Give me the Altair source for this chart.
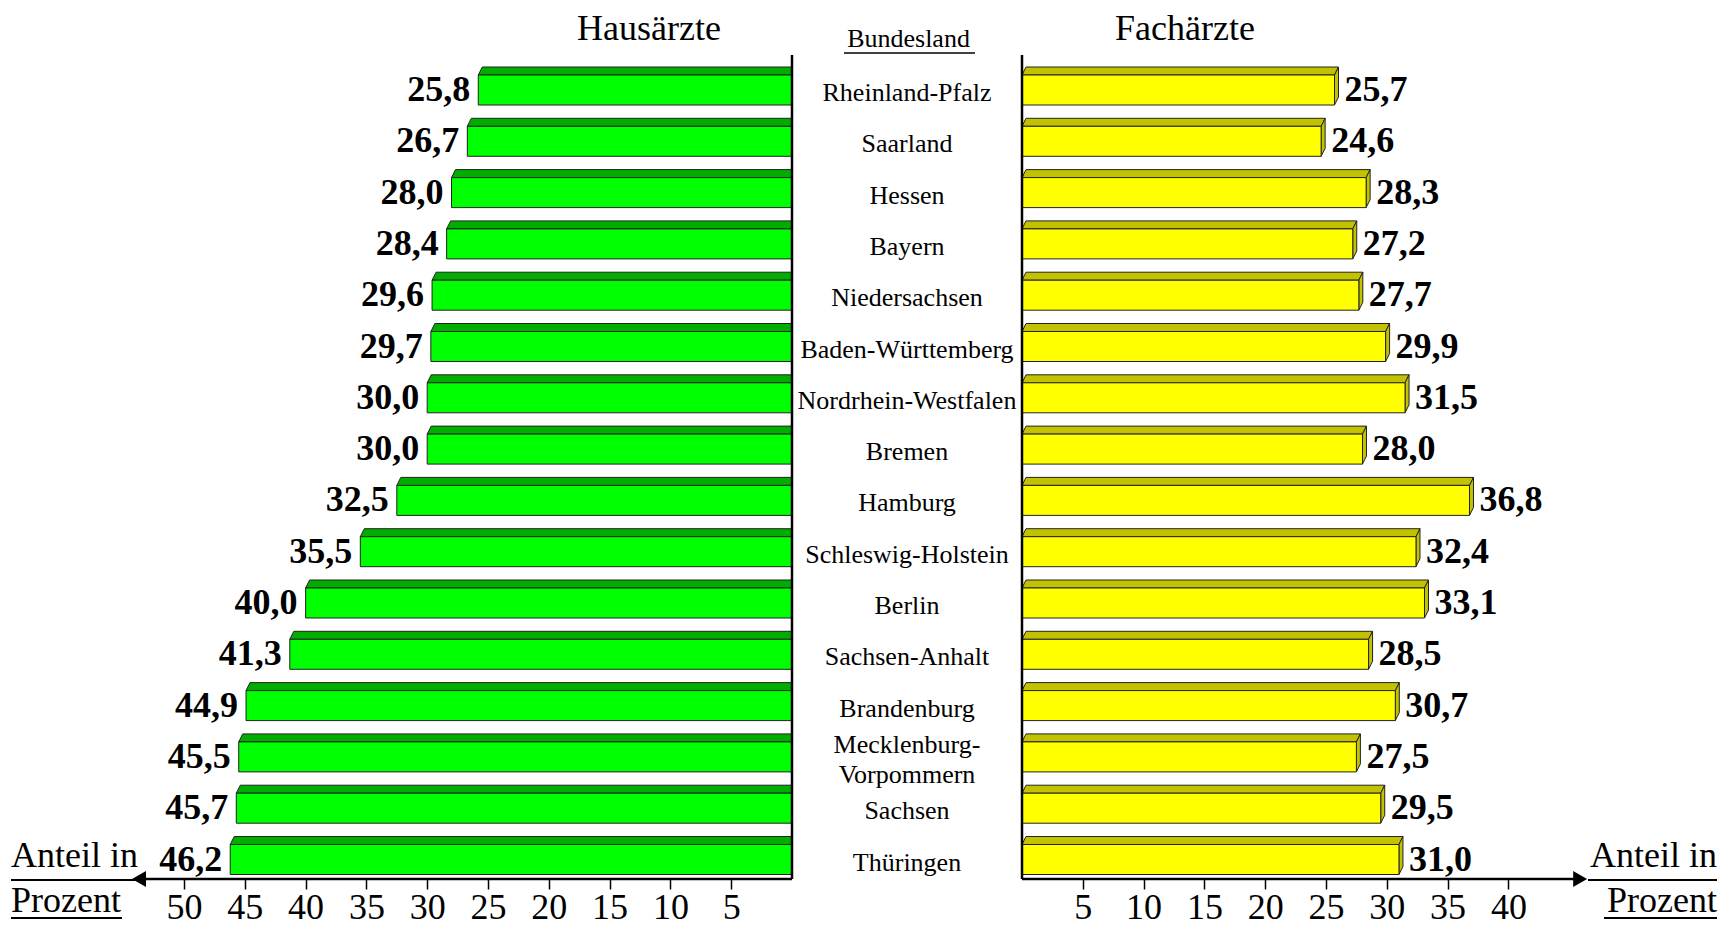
import altair as alt
import pandas as pd

# ---------------- data ----------------
states = ["Rheinland-Pfalz", "Saarland", "Hessen", "Bayern", "Niedersachsen",
          "Baden-Württemberg", "Nordrhein-Westfalen", "Bremen", "Hamburg",
          "Schleswig-Holstein", "Berlin", "Sachsen-Anhalt", "Brandenburg",
          "Mecklenburg-Vorpommern", "Sachsen", "Thüringen"]
state_labels = ["Rheinland-Pfalz", "Saarland", "Hessen", "Bayern", "Niedersachsen",
                "Baden-Württemberg", "Nordrhein-Westfalen", "Bremen", "Hamburg",
                "Schleswig-Holstein", "Berlin", "Sachsen-Anhalt", "Brandenburg",
                "Mecklenburg-\nVorpommern", "Sachsen", "Thüringen"]
hausaerzte = [25.8, 26.7, 28.0, 28.4, 29.6, 29.7, 30.0, 30.0, 32.5, 35.5,
              40.0, 41.3, 44.9, 45.5, 45.7, 46.2]
fachaerzte = [25.7, 24.6, 28.3, 27.2, 27.7, 29.9, 31.5, 28.0, 36.8, 32.4,
              33.1, 28.5, 30.7, 27.5, 29.5, 31.0]
ticks_left = [5, 10, 15, 20, 25, 30, 35, 40, 45, 50]
ticks_right = [5, 10, 15, 20, 25, 30, 35, 40]
axis_end_left = 53.4
axis_end_right = 45.6

# ---------------- layout constants ----------------
FONT = "Liberation Serif"
K = 12.16            # px per percent
W_L, W_M, W_R = 784, 230, 699
H = 871
STEP = 51.3
ROW0 = 82
Y_MIN = -ROW0 / STEP
Y_MAX = Y_MIN + H / STEP
HALF = 15 / STEP
DEPTH_Y = 8 / STEP
DEPTH_X = 4 / K
LINE_H = 30

GREEN, GREEN_TOP = "#00FF00", "#00AE00"
YELLOW, YELLOW_TOP = "#FFFF00", "#C2C200"


def fmt(v):
    return f"{v:.1f}".replace(".", ",")


df = pd.DataFrame({
    "state": states,
    "label": state_labels,
    "idx": list(range(len(states))),
    "haus": hausaerzte,
    "fach": fachaerzte,
})
df["haus_txt"] = df["haus"].map(fmt)
df["fach_txt"] = df["fach"].map(fmt)
df["lines"] = df["label"].str.count("\n") + 1
df["top"] = df["idx"] - HALF
df["bot"] = df["idx"] + HALF
df["zero"] = 0.0

# top faces (parallelograms) for both panels, side faces for right panel
rows_l, rows_r, rows_s = [], [], []
for _, r in df.iterrows():
    rows_l.append({"state": r.state, "y": r.top, "x": r.haus, "x2": 0.0})
    rows_l.append({"state": r.state, "y": r.top - DEPTH_Y, "x": r.haus - DEPTH_X, "x2": 0.0})
    rows_r.append({"state": r.state, "y": r.top, "x": 0.0, "x2": r.fach})
    rows_r.append({"state": r.state, "y": r.top - DEPTH_Y, "x": DEPTH_X, "x2": r.fach + DEPTH_X})
    rows_s.append({"state": r.state, "x": r.fach, "y": r.top, "y2": r.bot})
    rows_s.append({"state": r.state, "x": r.fach + DEPTH_X, "y": r.top - DEPTH_Y, "y2": r.bot - DEPTH_Y})
top_l = pd.DataFrame(rows_l)
top_r = pd.DataFrame(rows_r)
side_r = pd.DataFrame(rows_s)

one = pd.DataFrame({"v": [0]})

yscale = alt.Scale(domain=[Y_MIN, Y_MAX], reverse=True, nice=False, zero=False)
xL = alt.Scale(domain=[0, W_L / K], reverse=True, nice=False, zero=False)
xR = alt.Scale(domain=[0, W_R / K], nice=False, zero=False)


def make_axis(values):
    return alt.Axis(values=values, domain=False, grid=False, ticks=True, tickSize=10,
                    tickWidth=1.5, tickColor="black", labelFont=FONT, labelFontSize=36,
                    labelColor="black", labelPadding=1, title=None, format="d",
                    labelFlush=False, labelOverlap=False)


def text_at(x, y, txt, size, align="center", weight="normal"):
    return alt.Chart(one).mark_text(text=txt, font=FONT, fontSize=size, align=align,
                                    baseline="middle", fontWeight=weight, color="black").encode(
        x=alt.value(x), y=alt.value(y))


def hline(x1, x2, y, w=2):
    return alt.Chart(one).mark_rule(color="black", strokeWidth=w).encode(
        x=alt.value(x1), x2=alt.value(x2), y=alt.value(y))


# ---------------- left panel (Hausärzte) ----------------
l_top = alt.Chart(top_l).mark_area(orient="horizontal", fill=GREEN_TOP, stroke="#222",
                                   strokeWidth=1).encode(
    y=alt.Y("y:Q", scale=yscale, axis=None),
    x=alt.X("x:Q", scale=xL, axis=make_axis(ticks_left), stack=None),
    x2="x2:Q",
    detail="state:N")
l_front = alt.Chart(df).mark_rect(fill=GREEN, stroke="#222", strokeWidth=1).encode(
    x=alt.X("haus:Q", scale=xL), x2="zero:Q",
    y=alt.Y("top:Q", scale=yscale), y2="bot:Q")
l_text = alt.Chart(df).mark_text(align="right", baseline="middle", dx=-8, font=FONT,
                                 fontSize=36, fontWeight="bold", color="black").encode(
    x=alt.X("haus:Q", scale=xL), y=alt.Y("idx:Q", scale=yscale), text="haus_txt:N")
l_zero = alt.Chart(one).mark_rule(color="black", strokeWidth=2.5).encode(
    x=alt.datum(0), y=alt.value(47), y2=alt.value(H))
l_axis = alt.Chart(one).mark_rule(color="black", strokeWidth=2.5).encode(
    x=alt.datum(0), x2=alt.datum(axis_end_left), y=alt.value(H))
l_arrow = alt.Chart(one).mark_point(shape="triangle-left", filled=True, color="black",
                                    size=260, opacity=1).encode(
    x=alt.datum(axis_end_left + 0.3), y=alt.value(H))

left = alt.layer(
    l_top, l_front, l_text, l_zero, l_axis, l_arrow,
    text_at(641, 21, "Hausärzte", 36),
    text_at(3, 848, "Anteil in", 36, align="left"),
    hline(3, 134, 872),
    text_at(3, 893, "Prozent", 36, align="left"),
    hline(3, 114, 910),
).properties(width=W_L, height=H)

# ---------------- middle panel (Bundesland) ----------------
m_text1 = alt.Chart(df).transform_filter("datum.lines == 1").mark_text(
    font=FONT, fontSize=26, baseline="middle", align="center", dy=3, color="black").encode(
    x=alt.value(W_M / 2), y=alt.Y("idx:Q", scale=yscale, axis=None), text="label:N")
m_text2 = alt.Chart(df).transform_filter("datum.lines == 2").mark_text(
    font=FONT, fontSize=26, lineBreak="\n", lineHeight=LINE_H, baseline="middle",
    align="center", dy=3 - LINE_H / 2, color="black").encode(
    x=alt.value(W_M / 2), y=alt.Y("idx:Q", scale=yscale, axis=None), text="label:N")
middle = alt.layer(
    m_text1, m_text2,
    text_at(116.5, 31, "Bundesland", 26),
    hline(52, 183, 45, 1.5),
).properties(width=W_M, height=H)

# ---------------- right panel (Fachärzte) ----------------
r_top = alt.Chart(top_r).mark_area(orient="horizontal", fill=YELLOW_TOP, stroke="#222",
                                   strokeWidth=1).encode(
    y=alt.Y("y:Q", scale=yscale, axis=None),
    x=alt.X("x:Q", scale=xR, axis=make_axis(ticks_right), stack=None),
    x2="x2:Q",
    detail="state:N")
r_side = alt.Chart(side_r).mark_area(orient="vertical", fill=YELLOW_TOP, stroke="#222",
                                     strokeWidth=1).encode(
    x=alt.X("x:Q", scale=xR),
    y=alt.Y("y:Q", scale=yscale, stack=None), y2="y2:Q",
    detail="state:N")
r_front = alt.Chart(df).mark_rect(fill=YELLOW, stroke="#222", strokeWidth=1).encode(
    x=alt.X("zero:Q", scale=xR), x2="fach:Q",
    y=alt.Y("top:Q", scale=yscale), y2="bot:Q")
r_text = alt.Chart(df).mark_text(align="left", baseline="middle", dx=10, font=FONT,
                                 fontSize=36, fontWeight="bold", color="black").encode(
    x=alt.X("fach:Q", scale=xR), y=alt.Y("idx:Q", scale=yscale), text="fach_txt:N")
r_zero = alt.Chart(one).mark_rule(color="black", strokeWidth=2.5).encode(
    x=alt.datum(0), y=alt.value(47), y2=alt.value(H))
r_axis = alt.Chart(one).mark_rule(color="black", strokeWidth=2.5).encode(
    x=alt.datum(0), x2=alt.datum(axis_end_right), y=alt.value(H))
r_arrow = alt.Chart(one).mark_point(shape="triangle-right", filled=True, color="black",
                                    size=260, opacity=1).encode(
    x=alt.datum(axis_end_right + 0.3), y=alt.value(H))

right = alt.layer(
    r_top, r_side, r_front, r_text, r_zero, r_axis, r_arrow,
    text_at(163, 21, "Fachärzte", 36),
    text_at(695, 848, "Anteil in", 36, align="right"),
    hline(566, 695, 872),
    text_at(695, 893, "Prozent", 36, align="right"),
    hline(582, 695, 910),
).properties(width=W_R, height=H)

chart = alt.hconcat(left, middle, right, spacing=0, bounds="flush").properties(
    padding=0
).configure_view(stroke=None)

chart.save("out.html", embed_options={"renderer": "svg", "actions": False})
